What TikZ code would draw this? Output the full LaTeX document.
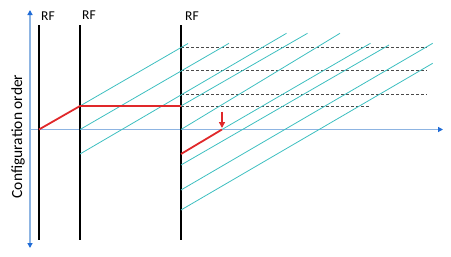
\documentclass[tikz,border=0pt]{standalone}
\usepackage{fontspec}
\setmainfont{Carlito}
\usetikzlibrary{arrows.meta}
\definecolor{axisblue}{HTML}{8DB4E2}
\definecolor{tipblue}{HTML}{1F6BD6}
\definecolor{teal1}{HTML}{3DBFC0}
\definecolor{redl}{HTML}{E0282A}
\definecolor{dashgray}{HTML}{4A4A4A}
\tikzset{
  bluetip/.tip={Triangle[length=5pt,width=5pt,color=tipblue]},
  redtip/.tip={Triangle[length=6pt,width=6pt,color=redl]},
  axisline/.style={draw=axisblue,line width=1.4pt},
  rfline/.style={draw=black,line width=2pt},
  rfpath/.style={draw=redl,line width=1.8pt},
  slant/.style={draw=teal1,line width=0.8pt},
  dashl/.style={draw=dashgray,line width=0.7pt,dash pattern=on 3pt off 2pt},
  rflabel/.style={font=\fontsize{13.5}{15}\selectfont,inner sep=0pt},
}
\begin{document}
\begin{tikzpicture}[x=1pt,y=-1pt]
\useasboundingbox (0,0) rectangle (451,257);
% axes
\coordinate (vtop) at (30,10);
\coordinate (vbot) at (30,248);
\coordinate (origin) at (30,129.5);
\coordinate (hend) at (443,129.5);
\draw[axisline,bluetip-bluetip] (vbot) -- (vtop);
\draw[axisline,-bluetip] (origin) -- (hend);
\node[rotate=90,font=\fontsize{15.5}{17}\selectfont,inner sep=0pt] (ylab) at (18,136.5) {Configuration order};
% RF lines
\foreach \n/\x in {1/39,2/80,3/181}{
  \coordinate (rf\n t) at (\x,25);
  \coordinate (rf\n b) at (\x,240);
  \draw[rfline] (rf\n t) -- (rf\n b);
}
\node[rflabel] (l1) at (48,16) {RF};
\node[rflabel] (l2) at (89,15) {RF};
\node[rflabel] (l3) at (192,16) {RF};
% dashed horizontals
\foreach \n/\y/\xe in {1/47.3/426.7,2/70.7/426.7,3/94.5/426.7,4/106/370}{
  \coordinate (ds\n) at (181,\y);
  \coordinate (de\n) at (\xe,\y);
  \draw[dashl] (ds\n) -- (de\n);
}
% slanted lines
\foreach \n/\xa/\ya/\xb/\yb in {
  A/80/106/188/43.5,
  B/80/129.5/229/43.3,
  C/80/154/286.5/33.3,
  H/181/106/307.5/33.3,
  D/181/129.5/340/33.3,
  R/222/129.5/370.5/43.3,
  E/181/165/389/45,
  F/181/190/432.7/43.3,
  G/181/210/432.7/63.3}{
  \coordinate (s\n) at (\xa,\ya);
  \coordinate (e\n) at (\xb,\yb);
  \draw[slant] (s\n) -- (e\n);
}
% red path
\coordinate (p0) at (39,129.5);
\coordinate (p1) at (80,106);
\coordinate (p2) at (181,106);
\coordinate (q0) at (181,154);
\coordinate (q1) at (222,129.5);
\coordinate (at) at (222,111.5);
\coordinate (ab) at (222,128);
\draw[rfpath,line join=round] (p0) -- (p1) -- (p2);
\draw[rfpath] (q0) -- (q1);
\draw[draw=redl,line width=1.5pt,-redtip] (at) -- (ab);
\end{tikzpicture}
\end{document}
